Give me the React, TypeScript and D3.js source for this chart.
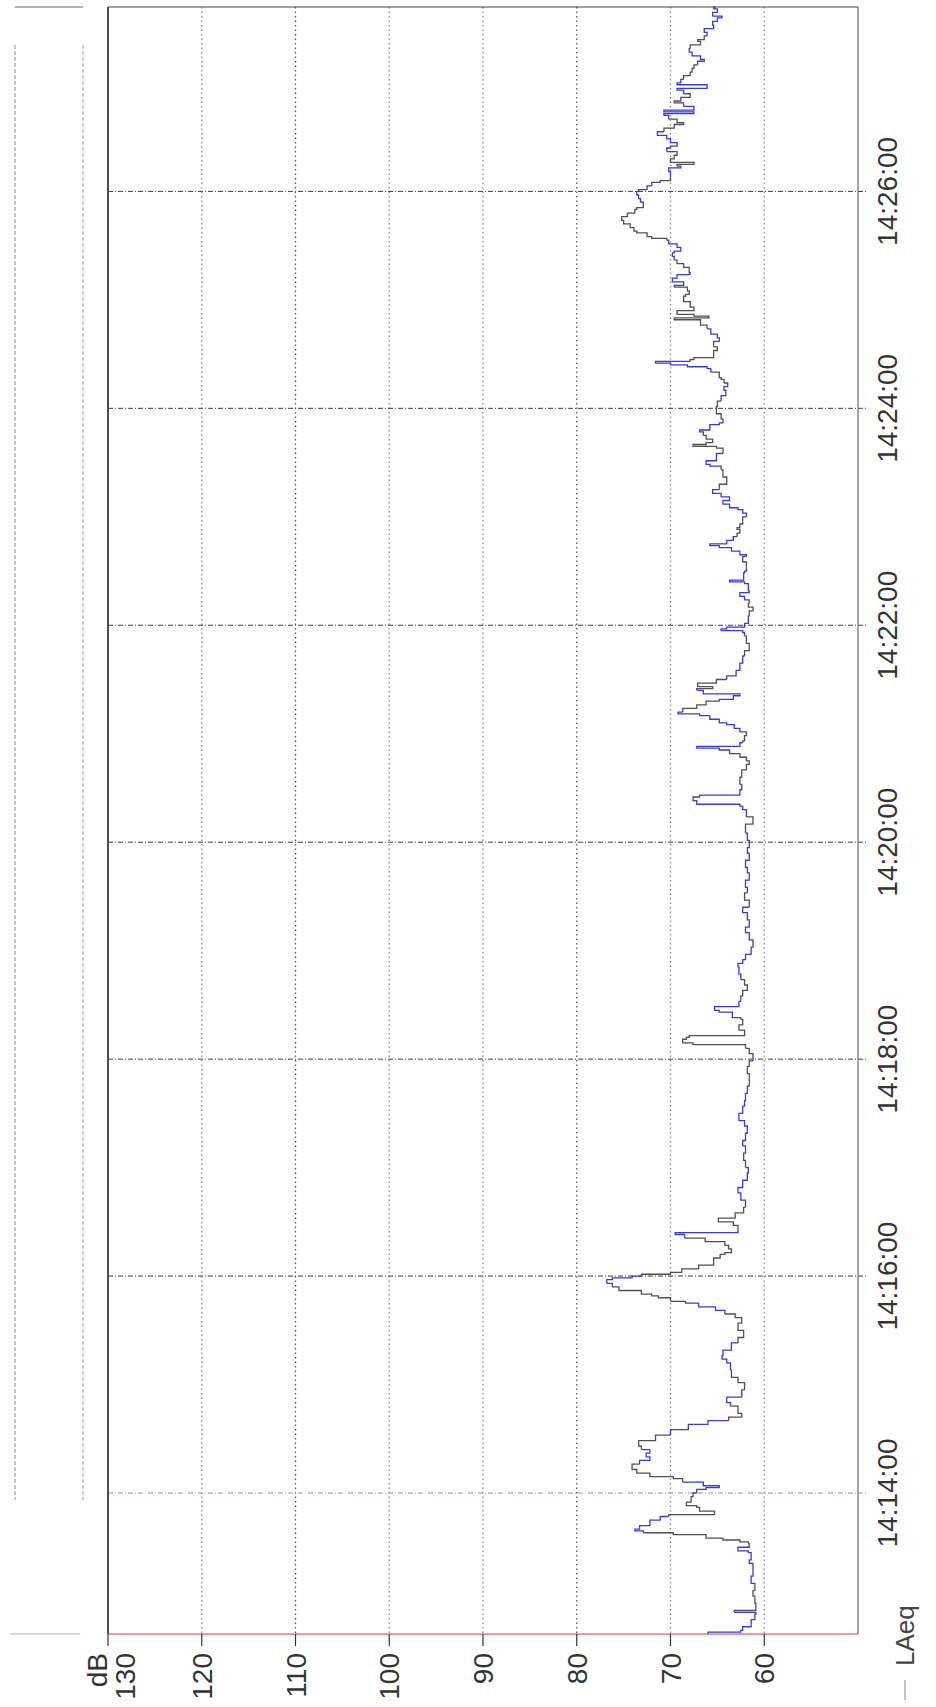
import React from "react";
import * as d3 from "d3";

// LAeq record, seconds after 14:12:42 and level in dB
const seconds = [
  0, 1, 2, 4, 8, 11, 12, 13, 17, 21, 24, 28, 32, 35, 39, 41, 45, 46, 48, 50,
  51, 52, 53, 55, 56, 57, 58, 60, 63, 65, 66, 68, 70, 71, 73, 76, 78, 80, 81, 82,
  84, 86, 87, 89, 91, 94, 96, 98, 100, 102, 104, 107, 110, 113, 116, 118, 120, 122, 126, 128,
  131, 135, 139, 142, 146, 150, 152, 154, 157, 161, 164, 168, 172, 175, 177, 179, 181, 183, 184, 186,
  187, 188, 190, 192, 194, 196, 197, 198, 199, 200, 202, 204, 208, 210, 211, 213, 215, 217, 219, 221,
  222, 224, 226, 228, 230, 233, 236, 240, 244, 247, 251, 255, 258, 262, 266, 270, 273, 277, 281, 284,
  288, 292, 295, 299, 303, 306, 310, 314, 317, 321, 324, 326, 327, 329, 330, 331, 334, 337, 340, 341,
  344, 345, 347, 350, 353, 356, 359, 362, 365, 369, 371, 373, 376, 380, 384, 388, 391, 395, 399, 402,
  406, 410, 413, 417, 421, 424, 428, 432, 435, 439, 443, 448, 452, 456, 458, 459, 461, 463, 464, 467,
  470, 474, 478, 481, 483, 485, 487, 489, 490, 491, 493, 494, 497, 499, 501, 503, 504, 506, 508, 509,
  510, 512, 514, 516, 517, 519, 520, 522, 523, 524, 526, 528, 530, 533, 537, 541, 544, 548, 552, 554,
  555, 556, 557, 559, 563, 566, 568, 570, 572, 574, 576, 577, 581, 582, 583, 587, 588, 590, 593, 596,
  597, 599, 601, 602, 603, 605, 607, 609, 611, 612, 614, 618, 620, 622, 623, 625, 627, 629, 631, 633,
  636, 640, 644, 646, 647, 649, 653, 656, 657, 658, 659, 661, 663, 665, 666, 669, 670, 672, 675, 677,
  679, 682, 685, 688, 690, 692, 694, 695, 698, 700, 701, 702, 703, 704, 705, 706, 708, 710, 712, 715,
  717, 719, 722, 724, 727, 728, 729, 730, 732, 734, 737, 740, 741, 743, 745, 746, 748, 750, 752, 753,
  756, 758, 760, 762, 764, 765, 767, 769, 771, 772, 773, 775, 776, 778, 780, 782, 784, 786, 788, 789,
  792, 794, 796, 798, 799, 801, 803, 804, 806, 809, 811, 812, 813, 814, 816, 818, 820, 822, 823, 825,
  827, 829, 831, 833, 835, 836, 838, 840, 841, 842, 843, 845, 847, 848, 850, 852, 854, 855, 857, 858,
  860, 862, 864, 866, 868, 870, 871, 873, 875, 877, 879, 881, 882, 884, 886, 888, 890, 892, 894, 895,
  897, 899, 900,
];

const laeq = [
  66.0, 62.5, 62.3, 61.4, 61.0, 60.9, 63.2, 60.9, 61.0, 61.2, 61.0, 61.4, 61.2, 61.2, 61.6, 61.4, 61.7, 62.8, 61.6, 61.7,
  62.6, 64.4, 66.2, 69.7, 72.9, 73.8, 73.3, 72.2, 71.1, 70.2, 65.3, 66.9, 67.2, 68.3, 67.8, 67.6, 67.2, 66.2, 64.8, 66.5,
  68.7, 69.7, 72.2, 73.6, 74.1, 73.3, 72.2, 72.6, 72.2, 73.1, 73.4, 71.6, 70.0, 68.1, 66.0, 63.8, 62.4, 62.8, 63.6, 64.0,
  62.4, 62.1, 62.8, 63.5, 63.6, 64.0, 64.5, 64.4, 63.5, 62.8, 62.2, 62.8, 62.4, 63.1, 64.2, 65.2, 67.0, 68.4, 70.0, 71.3,
  72.0, 73.1, 75.5, 76.2, 76.8, 76.2, 74.1, 73.1, 70.0, 68.8, 67.0, 65.4, 64.7, 64.2, 63.5, 63.8, 64.2, 66.3, 68.5, 69.5,
  62.8, 62.8, 63.3, 64.9, 63.1, 62.2, 62.0, 62.5, 62.8, 62.3, 61.8, 61.7, 62.0, 62.2, 62.0, 62.3, 62.0, 61.8, 62.1, 62.7,
  62.3, 62.1, 62.0, 61.8, 61.6, 61.6, 61.8, 61.6, 61.2, 61.6, 62.0, 67.6, 68.7, 68.3, 68.0, 62.1, 62.7, 62.3, 62.5, 63.4,
  64.8, 65.3, 62.7, 62.5, 62.3, 61.8, 62.1, 62.5, 62.7, 62.8, 62.3, 62.0, 61.4, 61.2, 61.6, 62.0, 61.6, 61.8, 62.3, 61.6,
  62.1, 61.8, 62.0, 61.6, 61.8, 62.0, 61.6, 61.8, 61.6, 61.8, 62.0, 61.2, 61.9, 62.3, 62.6, 67.2, 67.6, 66.9, 62.6, 62.4,
  62.6, 62.4, 61.9, 61.6, 61.9, 62.6, 63.7, 64.8, 67.2, 62.6, 62.3, 62.1, 61.9, 62.6, 63.2, 64.0, 64.8, 65.8, 66.9, 69.2,
  68.7, 67.2, 66.2, 64.8, 63.3, 62.6, 66.5, 67.2, 65.5, 67.1, 65.1, 64.0, 63.0, 62.6, 62.3, 62.1, 61.6, 61.9, 62.1, 62.3,
  64.6, 64.0, 62.1, 61.7, 61.6, 61.2, 61.7, 61.6, 62.1, 62.6, 61.6, 61.7, 62.1, 63.7, 62.2, 62.1, 61.9, 61.9, 62.3, 61.9,
  62.6, 63.5, 64.8, 65.8, 64.0, 63.3, 62.9, 62.6, 62.9, 62.6, 62.3, 61.9, 62.3, 62.8, 63.7, 64.4, 63.7, 64.6, 65.5, 64.8,
  64.0, 64.4, 64.6, 65.8, 66.2, 65.1, 64.4, 65.1, 67.6, 66.2, 65.5, 66.2, 66.5, 66.9, 65.8, 64.8, 64.4, 64.6, 65.1, 65.1,
  65.0, 64.6, 64.1, 64.3, 63.9, 64.3, 64.6, 64.8, 65.7, 66.1, 68.2, 70.0, 71.6, 67.9, 67.5, 65.4, 65.4, 65.0, 65.4, 64.8,
  65.0, 65.7, 66.1, 66.8, 69.6, 65.9, 67.5, 69.3, 67.5, 67.9, 68.6, 68.4, 68.0, 68.2, 69.6, 68.6, 69.8, 69.3, 67.9, 68.0,
  68.6, 69.3, 69.6, 69.8, 69.6, 68.9, 69.3, 70.2, 70.4, 72.0, 72.5, 73.6, 73.9, 74.3, 75.0, 75.2, 74.6, 73.8, 73.6, 72.9,
  73.2, 73.4, 73.6, 73.4, 72.5, 72.0, 71.1, 70.0, 70.0, 70.2, 68.9, 69.3, 67.5, 70.0, 69.6, 69.3, 70.4, 70.0, 69.3, 70.0,
  70.4, 71.4, 70.7, 69.6, 68.6, 69.3, 70.2, 70.7, 67.5, 70.7, 67.5, 68.6, 69.6, 68.9, 67.9, 68.6, 69.3, 66.1, 69.3, 68.9,
  68.6, 67.9, 67.7, 67.5, 67.1, 66.4, 66.8, 67.7, 68.0, 67.9, 66.8, 67.1, 66.4, 66.1, 66.4, 65.4, 65.5, 65.0, 64.5, 65.5,
  65.0, 65.4, 65.2,
];

// stretches of the trace printed in blue (seconds after start)
const blueSpans: [number, number][] = [
  [0, 12], [22, 50], [56, 64], [78, 84], [94, 102], [110, 118], [124, 134], [146, 160],
  [176, 184], [194, 198], [218, 224], [236, 256], [270, 300], [316, 324], [340, 350],
  [362, 400], [410, 440], [450, 470], [484, 492], [498, 510], [516, 522], [528, 540],
  [552, 560], [570, 590], [596, 606], [618, 632], [642, 650], [662, 672], [680, 692],
  [698, 704], [712, 720], [744, 752], [760, 770], [790, 800], [806, 812], [820, 830],
  [838, 844], [852, 860], [868, 876], [884, 900],
];

const levelTicks = [130, 120, 110, 100, 90, 80, 70, 60];
const levelDomain = [50, 130];
const startTime = new Date(2020, 0, 1, 14, 12, 42);
const endTime = new Date(2020, 0, 1, 14, 27, 42);
const unitLabel = "dB";
const seriesName = "LAeq";

const W = 936;
const H = 1707;
const frame = { left: 108, right: 858, top: 7, bottom: 1634 };
const FONT = "'Liberation Sans', Arial, Helvetica, sans-serif";
const BLUE = "#3a3ad6";
const GRAY = "#505050";

export default function App() {
  // chart is printed turned a quarter turn: time runs bottom -> top, level right -> left
  const x = d3.scaleLinear().domain(levelDomain).range([frame.right, frame.left]);
  const y = d3.scaleTime().domain([startTime, endTime]).range([frame.bottom, frame.top]);

  const pts = seconds.map((s, i) => ({
    t: new Date(startTime.getTime() + s * 1000),
    s,
    v: laeq[i],
  }));

  const line = d3
    .line<{ t: Date; v: number }>()
    .x((d) => x(d.v))
    .y((d) => y(d.t))
    .curve(d3.curveStepBefore);

  const isBlue = (s: number) => blueSpans.some(([a, b]) => s >= a && s < b);

  // group consecutive intervals of equal colour into runs
  const runs: { color: string; from: number; to: number }[] = [];
  for (let i = 0; i < pts.length - 1; i++) {
    const c = isBlue(pts[i].s) ? BLUE : GRAY;
    const last = runs[runs.length - 1];
    if (last && last.color === c) last.to = i + 1;
    else runs.push({ color: c, from: i, to: i + 1 });
  }

  const timeTicks = y.ticks(d3.timeMinute.every(2) as any);
  const fmt = d3.timeFormat("%H:%M:%S");

  const gridTone = (v: number) => (v === 110 || v === 80 ? "#555" : "#8a8a8a");

  return (
    <svg
      width={W}
      height={H}
      viewBox={`0 0 ${W} ${H}`}
      style={{ position: "absolute", left: 0, top: 0, background: "#fff" }}
    >
      <rect x={0} y={0} width={W} height={H} fill="#fff" />

      {/* remains of a neighbouring panel frame */}
      <line x1={15} x2={83} y1={7} y2={7} stroke="#666" strokeWidth={1.2} />
      <line x1={15} x2={15} y1={45} y2={1500} stroke="#b4b4b4" strokeWidth={1.5} strokeDasharray="4,2" />
      <line x1={83} x2={83} y1={45} y2={1500} stroke="#bdbdbd" strokeWidth={1.5} strokeDasharray="4,2" />
      <line x1={10} x2={80} y1={frame.bottom} y2={frame.bottom} stroke="#d8a0a0" strokeWidth={1} />

      {/* level grid (dotted) */}
      {levelTicks
        .filter((v) => v !== 130)
        .map((v) => (
          <line
            key={"g" + v}
            x1={x(v)}
            x2={x(v)}
            y1={frame.top}
            y2={frame.bottom}
            stroke={gridTone(v)}
            strokeWidth={1.3}
            strokeDasharray="1.5,3"
          />
        ))}

      {/* time grid (dash-dot) */}
      {timeTicks.map((t, i) => (
        <line
          key={"t" + i}
          x1={frame.left}
          x2={frame.right + 10}
          y1={y(t)}
          y2={y(t)}
          stroke={i === 0 ? "#7f9ad6" : "#3c3c3c"}
          strokeWidth={1}
          strokeDasharray="5,2,1,2"
        />
      ))}

      {/* frame */}
      <line x1={frame.left} x2={frame.right} y1={frame.top} y2={frame.top} stroke="#444" strokeWidth={1.2} />
      <line x1={frame.left} x2={frame.left} y1={frame.top} y2={frame.bottom} stroke="#3a3a3a" strokeWidth={1.8} />
      <line x1={frame.right} x2={frame.right} y1={frame.top} y2={frame.bottom} stroke="#6a6a6a" strokeWidth={1.2} />
      <line x1={frame.left} x2={frame.right} y1={frame.bottom} y2={frame.bottom} stroke="#d23b3b" strokeWidth={1} />

      {/* level ticks */}
      {levelTicks.map((v) => (
        <line key={"k" + v} x1={x(v)} x2={x(v)} y1={frame.bottom} y2={frame.bottom + 12} stroke="#333" strokeWidth={1.2} />
      ))}

      {/* trace */}
      {runs.map((r, i) => (
        <path
          key={"r" + i}
          d={line(pts.slice(r.from, r.to + 1)) || ""}
          fill="none"
          stroke={r.color}
          strokeWidth={1.3}
        />
      ))}

      {/* level labels */}
      {levelTicks.map((v) => {
        const bx = v === 130 ? x(v) + 27 : x(v) + 10;
        return (
          <text
            key={"l" + v}
            transform={`translate(${bx},${frame.bottom + 19}) rotate(-90)`}
            textAnchor="end"
            fontFamily={FONT}
            fontSize={28}
            fill="#333"
          >
            {v}
          </text>
        );
      })}
      <text
        transform={`translate(${x(130) - 1},${frame.bottom + 19}) rotate(-90)`}
        textAnchor="end"
        fontFamily={FONT}
        fontSize={28}
        fill="#333"
      >
        {unitLabel}
      </text>

      {/* time labels */}
      {timeTicks.map((t, i) => (
        <text
          key={"tl" + i}
          transform={`translate(897,${y(t)}) rotate(-90)`}
          textAnchor="middle"
          fontFamily={FONT}
          fontSize={28}
          fill="#333"
        >
          {fmt(t)}
        </text>
      ))}

      {/* legend */}
      <line x1={905} x2={905} y1={1680} y2={1700} stroke="#999" strokeWidth={1.2} />
      <text
        transform={`translate(914,1666) rotate(-90)`}
        textAnchor="start"
        fontFamily={FONT}
        fontSize={26}
        fill="#444"
      >
        {seriesName}
      </text>
    </svg>
  );
}
